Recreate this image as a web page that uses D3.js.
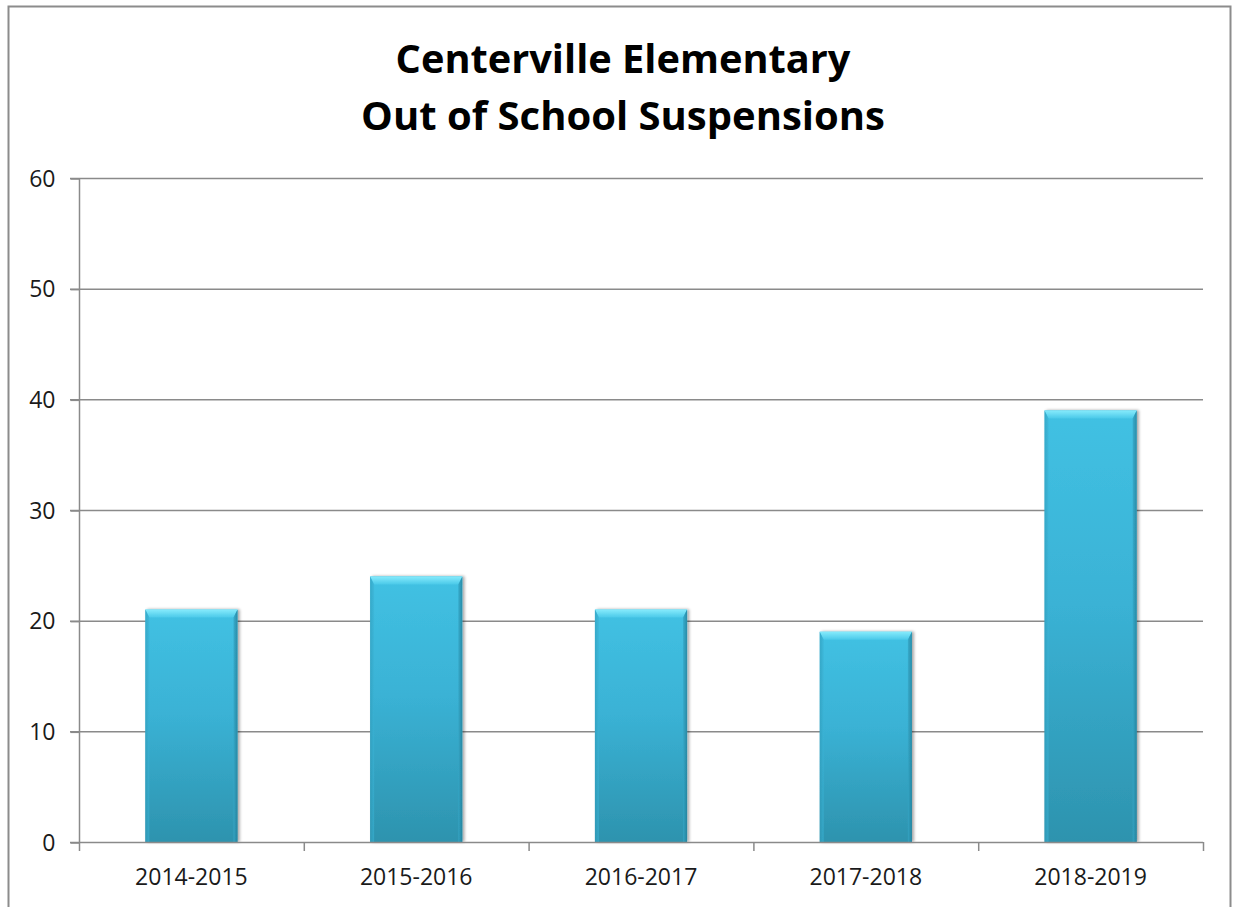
<!DOCTYPE html>
<html>
<head>
<meta charset="utf-8">
<script src="https://cdn.jsdelivr.net/npm/d3@7"></script>
<style>
  html, body { margin: 0; padding: 0; background: #fff; }
  svg { display: block; }
</style>
</head>
<body>
<svg id="chart" width="1233" height="907"></svg>
<script>
const titleLines = ["Centerville Elementary", "Out of School Suspensions"];
const categories = ["2014-2015", "2015-2016", "2016-2017", "2017-2018", "2018-2019"];
const suspensions = [21, 24, 21, 19, 39];
const yTicks = [0, 10, 20, 30, 40, 50, 60];

const svg = d3.select("#chart");
const plot = { left: 79, right: 1203, top: 178, bottom: 842 };

// outer frame
svg.append("rect").attr("x", 8.5).attr("y", 6.5).attr("width", 1222).attr("height", 910)
  .attr("fill", "#fff").attr("stroke", "#8c8c8c").attr("stroke-width", 2);

const x = d3.scaleBand().domain(categories).range([plot.left, plot.right]).paddingInner(0.59).paddingOuter(0.295);
const xb = d3.scaleBand().domain(categories).range([plot.left, plot.right]);
const y = d3.scaleLinear().domain([0, 60]).range([plot.bottom, plot.top]);

const defs = svg.append("defs");
const g1 = defs.append("linearGradient").attr("id", "barFill").attr("x1", 0).attr("y1", 0).attr("x2", 0).attr("y2", 1);
g1.append("stop").attr("offset", "0%").attr("stop-color", "#41c1e3");
g1.append("stop").attr("offset", "45%").attr("stop-color", "#3ab2d5");
g1.append("stop").attr("offset", "100%").attr("stop-color", "#2d93ae");
const g2 = defs.append("linearGradient").attr("id", "topBevel").attr("x1", 0).attr("y1", 0).attr("x2", 0).attr("y2", 1);
g2.append("stop").attr("offset", "0%").attr("stop-color", "#86ebfc");
g2.append("stop").attr("offset", "100%").attr("stop-color", "#4ac9e9");
const g3 = defs.append("linearGradient").attr("id", "rightBevel").attr("x1", 0).attr("y1", 0).attr("x2", 1).attr("y2", 0);
g3.append("stop").attr("offset", "0%").attr("stop-color", "#35a6c6");
g3.append("stop").attr("offset", "100%").attr("stop-color", "#23809a");
const g4 = defs.append("linearGradient").attr("id", "leftBevel").attr("x1", 0).attr("y1", 0).attr("x2", 1).attr("y2", 0);
g4.append("stop").attr("offset", "0%").attr("stop-color", "#2f9ab8");
g4.append("stop").attr("offset", "100%").attr("stop-color", "#3bb4d6");
const flt = defs.append("filter").attr("id", "shadow").attr("x", "-10%").attr("y", "-10%").attr("width", "130%").attr("height", "130%");
flt.append("feGaussianBlur").attr("in", "SourceAlpha").attr("stdDeviation", 1.5).attr("result", "b");
flt.append("feOffset").attr("in", "b").attr("dx", 1.5).attr("dy", 0).attr("result", "o");
flt.append("feComponentTransfer").attr("in", "o").attr("result", "o2")
  .append("feFuncA").attr("type", "linear").attr("slope", 0.35);
const fm = flt.append("feMerge");
fm.append("feMergeNode").attr("in", "o2");
fm.append("feMergeNode").attr("in", "SourceGraphic");

// gridlines
svg.append("g").selectAll("line").data(yTicks.filter(d => d > 0)).join("line")
  .attr("x1", plot.left - 9).attr("x2", plot.right)
  .attr("y1", d => y(d) + 0.5).attr("y2", d => y(d) + 0.5)
  .attr("stroke", "#8a8a8a").attr("stroke-width", 1.5);

// y axis
const yAxis = svg.append("g").attr("transform", `translate(${plot.left + 0.5},0)`)
  .call(d3.axisLeft(y).tickValues(yTicks).tickSize(9).tickPadding(15).tickFormat(d3.format("d")));
yAxis.select(".domain").attr("stroke", "#8a8a8a").attr("stroke-width", 1.5).attr("d", `M0,${plot.top}V${plot.bottom}`);
yAxis.selectAll(".tick line").attr("stroke", "#8a8a8a").attr("stroke-width", 1.5).attr("transform", "translate(0,0.5)");
yAxis.selectAll(".tick text").attr("font-family", "'Open Sans', sans-serif").attr("font-size", 23)
  .attr("fill", "#1a1a1a").attr("dy", "0.36em");

// bars
const bars = svg.append("g").selectAll("g").data(categories).join("g").attr("filter", "url(#shadow)");
bars.each(function(c, i) {
  const g = d3.select(this);
  const x0 = x(c), w = x.bandwidth(), y0 = y(suspensions[i]), y1 = y(0);
  const b = 8, s = 4;
  g.append("rect").attr("x", x0).attr("y", y0).attr("width", w).attr("height", y1 - y0).attr("fill", "url(#barFill)");
  g.append("polygon").attr("points", [[x0, y0], [x0 + w, y0], [x0 + w - s, y0 + b], [x0 + s, y0 + b]].map(p => p.join(",")).join(" "))
    .attr("fill", "url(#topBevel)");
  g.append("polygon").attr("points", [[x0 + w, y0], [x0 + w, y1], [x0 + w - s, y1], [x0 + w - s, y0 + b]].map(p => p.join(",")).join(" "))
    .attr("fill", "url(#rightBevel)").attr("opacity", 0.8);
  g.append("polygon").attr("points", [[x0, y0], [x0 + s, y0 + b], [x0 + s, y1], [x0, y1]].map(p => p.join(",")).join(" "))
    .attr("fill", "url(#leftBevel)").attr("opacity", 0.6);
});

// x axis
const xAxis = svg.append("g").attr("transform", `translate(0,${plot.bottom + 0.5})`)
  .call(d3.axisBottom(xb).tickSize(0).tickPadding(26));
xAxis.select(".domain").attr("stroke", "#8a8a8a").attr("stroke-width", 1.5).attr("d", `M${plot.left - 9},0H${plot.right}`);
xAxis.selectAll(".tick text").attr("font-family", "'Open Sans', sans-serif").attr("font-size", 23).attr("fill", "#1a1a1a");
// category separator ticks
const bounds = categories.map(c => xb(c)).concat([plot.right]);
svg.append("g").selectAll("line").data(bounds).join("line")
  .attr("x1", d => d + 0.5).attr("x2", d => d + 0.5)
  .attr("y1", plot.bottom).attr("y2", plot.bottom + 9)
  .attr("stroke", "#8a8a8a").attr("stroke-width", 1.5);

// title
const title = svg.append("g");
const targetW = [455, 524];
const baselines = [73, 130];
titleLines.forEach((t, i) => {
  const tx = title.append("text").attr("x", 623).attr("y", baselines[i]).attr("text-anchor", "middle")
    .attr("font-family", "'Open Sans', sans-serif").attr("font-weight", 700).attr("font-size", 36).attr("fill", "#000").text(t);
  const len = tx.node().getComputedTextLength();
  tx.attr("font-size", 36 * targetW[i] / len);
});
</script>
</body>
</html>
